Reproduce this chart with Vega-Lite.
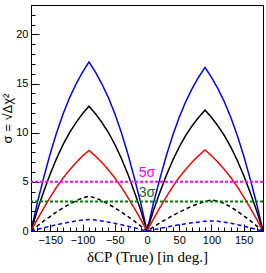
{
  "$schema": "https://vega.github.io/schema/vega-lite/v6.json",
  "width": 232,
  "height": 226,
  "autosize": {"type": "none"},
  "padding": {"left": 31, "top": 5, "right": 3, "bottom": 42},
  "background": "white",
  "config": {
    "view": {"stroke": "black", "strokeWidth": 1},
    "axis": {"grid": false, "domainColor": "black", "tickColor": "black", "labelColor": "black", "titleColor": "black", "labelFont": "Liberation Sans", "labelFontSize": 11, "tickWidth": 1}
  },
  "datasets": {
    "curves": [
      {"s":"b","d":-180,"v":0},{"s":"b","d":-170,"v":2.92},{"s":"b","d":-160,"v":5.50},{"s":"b","d":-150,"v":7.91},{"s":"b","d":-140,"v":10.06},{"s":"b","d":-130,"v":11.95},{"s":"b","d":-120,"v":13.59},{"s":"b","d":-110,"v":14.96},{"s":"b","d":-100,"v":16.17},{"s":"b","d":-90,"v":17.2},{"s":"b","d":-80,"v":16.17},{"s":"b","d":-70,"v":14.96},{"s":"b","d":-60,"v":13.59},{"s":"b","d":-50,"v":11.95},{"s":"b","d":-40,"v":10.06},{"s":"b","d":-30,"v":7.91},{"s":"b","d":-20,"v":5.50},{"s":"b","d":-10,"v":2.92},{"s":"b","d":0,"v":0},
      {"s":"b","d":10,"v":2.83},{"s":"b","d":20,"v":5.33},{"s":"b","d":30,"v":7.66},{"s":"b","d":40,"v":9.74},{"s":"b","d":50,"v":11.57},{"s":"b","d":60,"v":13.15},{"s":"b","d":70,"v":14.49},{"s":"b","d":80,"v":15.65},{"s":"b","d":90,"v":16.65},{"s":"b","d":100,"v":15.65},{"s":"b","d":110,"v":14.49},{"s":"b","d":120,"v":13.15},{"s":"b","d":130,"v":11.57},{"s":"b","d":140,"v":9.74},{"s":"b","d":150,"v":7.66},{"s":"b","d":160,"v":5.33},{"s":"b","d":170,"v":2.83},{"s":"b","d":180,"v":0},
      {"s":"k","d":-180,"v":0},{"s":"k","d":-170,"v":2.16},{"s":"k","d":-160,"v":4.06},{"s":"k","d":-150,"v":5.84},{"s":"k","d":-140,"v":7.43},{"s":"k","d":-130,"v":8.83},{"s":"k","d":-120,"v":10.03},{"s":"k","d":-110,"v":11.05},{"s":"k","d":-100,"v":11.94},{"s":"k","d":-90,"v":12.7},{"s":"k","d":-80,"v":11.94},{"s":"k","d":-70,"v":11.05},{"s":"k","d":-60,"v":10.03},{"s":"k","d":-50,"v":8.83},{"s":"k","d":-40,"v":7.43},{"s":"k","d":-30,"v":5.84},{"s":"k","d":-20,"v":4.06},{"s":"k","d":-10,"v":2.16},{"s":"k","d":0,"v":0},
      {"s":"k","d":10,"v":2.09},{"s":"k","d":20,"v":3.94},{"s":"k","d":30,"v":5.66},{"s":"k","d":40,"v":7.20},{"s":"k","d":50,"v":8.55},{"s":"k","d":60,"v":9.72},{"s":"k","d":70,"v":10.70},{"s":"k","d":80,"v":11.56},{"s":"k","d":90,"v":12.3},{"s":"k","d":100,"v":11.56},{"s":"k","d":110,"v":10.70},{"s":"k","d":120,"v":9.72},{"s":"k","d":130,"v":8.55},{"s":"k","d":140,"v":7.20},{"s":"k","d":150,"v":5.66},{"s":"k","d":160,"v":3.94},{"s":"k","d":170,"v":2.09},{"s":"k","d":180,"v":0},
      {"s":"r","d":-180,"v":0},{"s":"r","d":-170,"v":1.21},{"s":"r","d":-160,"v":2.36},{"s":"r","d":-150,"v":3.45},{"s":"r","d":-140,"v":4.49},{"s":"r","d":-130,"v":5.41},{"s":"r","d":-120,"v":6.23},{"s":"r","d":-110,"v":6.97},{"s":"r","d":-100,"v":7.63},{"s":"r","d":-90,"v":8.2},{"s":"r","d":-80,"v":7.63},{"s":"r","d":-70,"v":6.97},{"s":"r","d":-60,"v":6.23},{"s":"r","d":-50,"v":5.41},{"s":"r","d":-40,"v":4.49},{"s":"r","d":-30,"v":3.45},{"s":"r","d":-20,"v":2.36},{"s":"r","d":-10,"v":1.21},{"s":"r","d":0,"v":0},
      {"s":"r","d":10,"v":1.21},{"s":"r","d":20,"v":2.38},{"s":"r","d":30,"v":3.47},{"s":"r","d":40,"v":4.52},{"s":"r","d":50,"v":5.45},{"s":"r","d":60,"v":6.27},{"s":"r","d":70,"v":7.01},{"s":"r","d":80,"v":7.67},{"s":"r","d":90,"v":8.25},{"s":"r","d":100,"v":7.67},{"s":"r","d":110,"v":7.01},{"s":"r","d":120,"v":6.27},{"s":"r","d":130,"v":5.45},{"s":"r","d":140,"v":4.52},{"s":"r","d":150,"v":3.47},{"s":"r","d":160,"v":2.38},{"s":"r","d":170,"v":1.21},{"s":"r","d":180,"v":0},
      {"s":"kd","d":-180,"v":0},{"s":"kd","d":-170,"v":0.52},{"s":"kd","d":-160,"v":1.02},{"s":"kd","d":-150,"v":1.49},{"s":"kd","d":-140,"v":1.95},{"s":"kd","d":-130,"v":2.36},{"s":"kd","d":-120,"v":2.74},{"s":"kd","d":-110,"v":3.08},{"s":"kd","d":-100,"v":3.37},{"s":"kd","d":-90,"v":3.55},{"s":"kd","d":-80,"v":3.37},{"s":"kd","d":-70,"v":3.08},{"s":"kd","d":-60,"v":2.74},{"s":"kd","d":-50,"v":2.36},{"s":"kd","d":-40,"v":1.95},{"s":"kd","d":-30,"v":1.49},{"s":"kd","d":-20,"v":1.02},{"s":"kd","d":-10,"v":0.52},{"s":"kd","d":0,"v":0},
      {"s":"kd","d":10,"v":0.42},{"s":"kd","d":20,"v":0.82},{"s":"kd","d":30,"v":1.20},{"s":"kd","d":40,"v":1.57},{"s":"kd","d":50,"v":1.92},{"s":"kd","d":60,"v":2.24},{"s":"kd","d":70,"v":2.53},{"s":"kd","d":80,"v":2.79},{"s":"kd","d":90,"v":3.01},{"s":"kd","d":100,"v":3.15},{"s":"kd","d":110,"v":3.05},{"s":"kd","d":120,"v":2.80},{"s":"kd","d":130,"v":2.45},{"s":"kd","d":140,"v":2.02},{"s":"kd","d":150,"v":1.55},{"s":"kd","d":160,"v":1.05},{"s":"kd","d":170,"v":0.53},{"s":"kd","d":180,"v":0},
      {"s":"bd","d":-180,"v":0},{"s":"bd","d":-170,"v":0.17},{"s":"bd","d":-160,"v":0.34},{"s":"bd","d":-150,"v":0.49},{"s":"bd","d":-140,"v":0.64},{"s":"bd","d":-130,"v":0.78},{"s":"bd","d":-120,"v":0.90},{"s":"bd","d":-110,"v":1.02},{"s":"bd","d":-100,"v":1.11},{"s":"bd","d":-90,"v":1.17},{"s":"bd","d":-80,"v":1.11},{"s":"bd","d":-70,"v":1.02},{"s":"bd","d":-60,"v":0.90},{"s":"bd","d":-50,"v":0.78},{"s":"bd","d":-40,"v":0.64},{"s":"bd","d":-30,"v":0.49},{"s":"bd","d":-20,"v":0.34},{"s":"bd","d":-10,"v":0.17},{"s":"bd","d":0,"v":0},
      {"s":"bd","d":10,"v":0.14},{"s":"bd","d":20,"v":0.27},{"s":"bd","d":30,"v":0.39},{"s":"bd","d":40,"v":0.51},{"s":"bd","d":50,"v":0.63},{"s":"bd","d":60,"v":0.73},{"s":"bd","d":70,"v":0.83},{"s":"bd","d":80,"v":0.91},{"s":"bd","d":90,"v":0.98},{"s":"bd","d":100,"v":1.03},{"s":"bd","d":110,"v":0.99},{"s":"bd","d":120,"v":0.90},{"s":"bd","d":130,"v":0.79},{"s":"bd","d":140,"v":0.65},{"s":"bd","d":150,"v":0.50},{"s":"bd","d":160,"v":0.34},{"s":"bd","d":170,"v":0.17},{"s":"bd","d":180,"v":0}
    ],
    "levels": [
      {"level": 5, "label": "5σ"},
      {"level": 3, "label": "3σ"}
    ]
  },
  "layer": [
    {
      "data": {"name": "curves"},
      "mark": {"type": "line", "strokeWidth": 1.5, "clip": true},
      "encoding": {
        "x": {"field": "d", "type": "quantitative", "scale": {"domain": [-180, 180], "nice": false, "zero": false},
          "axis": {"values": [-150, -100, -50, 0, 50, 100, 150], "tickSize": -7, "labelPadding": 10, "title": "δCP (True) [in deg.]", "titleFont": "Liberation Serif", "titleFontSize": 15, "titleFontWeight": "normal", "titlePadding": 4}},
        "y": {"field": "v", "type": "quantitative", "scale": {"domain": [0, 23], "nice": false},
          "axis": {"values": [0, 5, 10, 15, 20], "tickSize": -8, "labelPadding": 11, "title": "σ = √Δχ²", "titleFont": "Liberation Sans", "titleFontSize": 13, "titleFontWeight": "normal", "titlePadding": 1}},
        "color": {"field": "s", "type": "nominal", "scale": {"domain": ["b", "k", "r", "kd", "bd"], "range": ["#0000ff", "#000000", "#ff0000", "#000000", "#0000ff"]}, "legend": null},
        "strokeDash": {"field": "s", "type": "nominal", "scale": {"domain": ["b", "k", "r", "kd", "bd"], "range": [[1, 0], [1, 0], [1, 0], [4, 3], [4, 3]]}, "legend": null}
      }
    },
    {
      "data": {"name": "levels"},
      "mark": {"type": "rule", "strokeWidth": 2, "strokeDash": [3, 2]},
      "encoding": {
        "y": {"field": "level", "type": "quantitative",
          "axis": {"orient": "left", "values": [1,2,3,4,6,7,8,9,11,12,13,14,16,17,18,19,21,22,23], "tickSize": -4, "labels": false, "domain": false, "title": null}},
        "color": {"field": "label", "type": "nominal", "scale": {"domain": ["5σ", "3σ"], "range": ["#ff00ff", "#008000"]}, "legend": null}
      }
    },
    {
      "data": {"name": "levels"},
      "mark": {"type": "text", "font": "Liberation Sans", "fontSize": 14, "baseline": "middle", "dy": -9},
      "encoding": {
        "x": {"datum": 0, "type": "quantitative",
          "axis": {"orient": "bottom", "values": [-170,-160,-140,-130,-120,-110,-90,-80,-70,-60,-40,-30,-20,-10,10,20,30,40,60,70,80,90,110,120,130,140,160,170], "tickSize": -4, "labels": false, "domain": false, "title": null}},
        "y": {"field": "level", "type": "quantitative", "axis": null},
        "text": {"field": "label"},
        "color": {"field": "label", "type": "nominal", "scale": {"domain": ["5σ", "3σ"], "range": ["#ff00ff", "#1f5f1f"]}, "legend": null}
      }
    },
    {
      "mark": {"type": "rect", "color": "#d4cd85"},
      "encoding": {
        "x": {"datum": 129, "type": "quantitative", "axis": null},
        "x2": {"datum": 179},
        "y": {"datum": 20.98, "type": "quantitative", "axis": null},
        "y2": {"datum": 22.5}
      }
    },
    {
      "mark": {"type": "text", "text": "T2HK", "font": "Liberation Sans", "fontSize": 12, "fontWeight": "bold", "color": "black", "baseline": "middle", "align": "center"},
      "encoding": {
        "x": {"datum": 154, "type": "quantitative", "axis": null},
        "y": {"datum": 21.74, "type": "quantitative", "axis": null}
      }
    }
  ],
  "resolve": {"axis": {"x": "independent", "y": "independent"}, "scale": {"color": "independent"}}
}
